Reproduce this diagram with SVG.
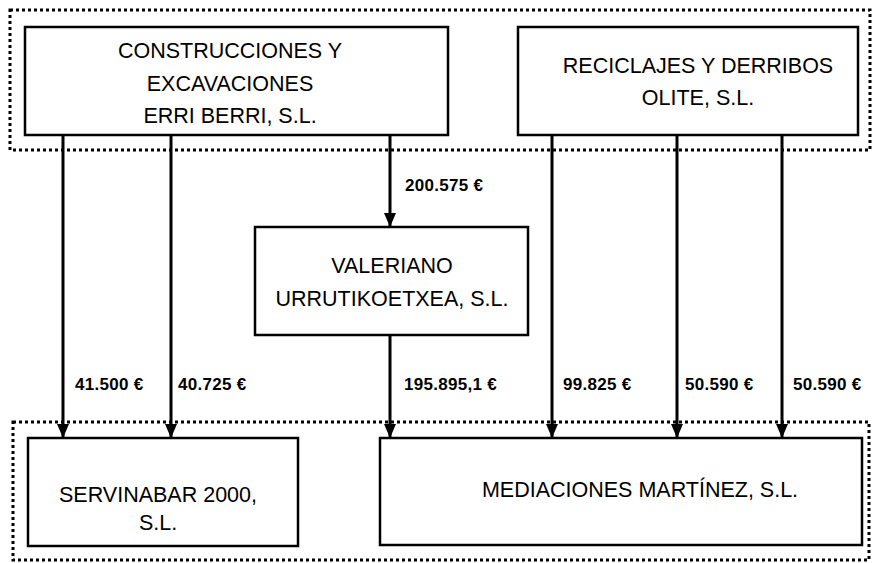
<svg xmlns="http://www.w3.org/2000/svg" width="873" height="563" viewBox="0 0 873 563">
<style>
.box{fill:#fff;stroke:#000;stroke-width:2.5}
.group{fill:none;stroke:#000;stroke-width:3;stroke-dasharray:3 3}
.t{font-family:"Liberation Sans",Arial,sans-serif;font-size:21.5px;fill:#000;text-anchor:middle}
.lbl{font-family:"Liberation Sans",Arial,sans-serif;font-size:17px;font-weight:bold;fill:#000;letter-spacing:0.3px}
.edge{stroke:#000;stroke-width:3;fill:none;marker-end:url(#ah)}
</style>
<defs>
<marker id="ah" markerUnits="userSpaceOnUse" viewBox="0 0 14 12" refX="14" refY="6" markerWidth="14" markerHeight="12" orient="auto">
<path d="M0,0 L14,6 L0,12 z" fill="#000"/>
</marker>
</defs>
<rect width="873" height="563" fill="#fff"/>
<g id="groups">
<rect class="group" x="10" y="10" width="860" height="140"/>
<rect class="group" x="13" y="422" width="856" height="138"/>
</g>
<g id="connectors">
<line class="edge" x1="63" y1="135" x2="63" y2="438"/>
<line class="edge" x1="171" y1="135" x2="171" y2="438"/>
<line class="edge" x1="390" y1="135" x2="390" y2="227"/>
<line class="edge" x1="390" y1="335" x2="390" y2="438"/>
<line class="edge" x1="552" y1="135" x2="552" y2="438"/>
<line class="edge" x1="677" y1="135" x2="677" y2="438"/>
<line class="edge" x1="782" y1="135" x2="782" y2="438"/>
<text class="lbl" x="405" y="191">200.575 €</text>
<text class="lbl" x="75" y="390">41.500 €</text>
<text class="lbl" x="178" y="390">40.725 €</text>
<text class="lbl" x="404" y="390">195.895,1 €</text>
<text class="lbl" x="563" y="390">99.825 €</text>
<text class="lbl" x="685" y="390">50.590 €</text>
<text class="lbl" x="793" y="390">50.590 €</text>
</g>
<g id="construcciones">
<rect class="box" x="25" y="27" width="423" height="108"/>
<text class="t" x="230" y="58">CONSTRUCCIONES Y</text>
<text class="t" x="230" y="91">EXCAVACIONES</text>
<text class="t" x="230" y="123">ERRI BERRI, S.L.</text>
</g>
<g id="reciclajes">
<rect class="box" x="518" y="27" width="340" height="108"/>
<text class="t" x="698" y="73">RECICLAJES Y DERRIBOS</text>
<text class="t" x="698" y="105">OLITE, S.L.</text>
</g>
<g id="valeriano">
<rect class="box" x="255" y="227" width="273" height="108"/>
<text class="t" x="392" y="273">VALERIANO</text>
<text class="t" x="392" y="306">URRUTIKOETXEA, S.L.</text>
</g>
<g id="servinabar">
<rect class="box" x="28" y="438" width="270" height="108"/>
<text class="t" x="158" y="502">SERVINABAR 2000,</text>
<text class="t" x="158" y="530">S.L.</text>
</g>
<g id="mediaciones">
<rect class="box" x="380" y="438" width="482" height="107"/>
<text class="t" x="640" y="497">MEDIACIONES MARTÍNEZ, S.L.</text>
</g>
</svg>
